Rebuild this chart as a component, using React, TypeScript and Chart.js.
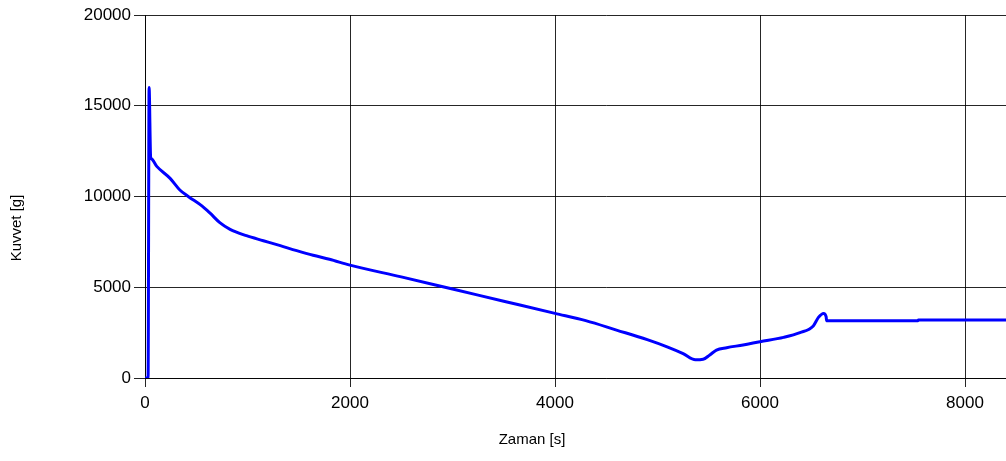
import React, { useEffect, useRef } from "react";
import { Chart, registerables } from "chart.js";

Chart.register(...registerables);

// Measured force over time
const timeSeconds: number[] = [
  0, 30, 40, 55, 62, 115, 245, 340, 425, 555, 635, 730, 830, 990, 1155, 1320,
  1480, 1640, 1800, 2000, 2500, 3000, 3500, 4000, 4300, 4600, 4900, 5100, 5250,
  5370, 5445, 5510, 5575, 5675, 5835, 6000, 6230, 6390, 6520, 6570, 6620, 6645,
  6650, 7540, 7545, 9000,
];
const forceGrams: number[] = [
  0, 0, 16000, 12150, 12080, 11660, 11000, 10360, 9990, 9480, 9080, 8560, 8190,
  7840, 7565, 7290, 7015, 6760, 6540, 6220, 5570, 4900, 4230, 3560, 3160, 2640,
  2110, 1700, 1340, 1000, 1030, 1270, 1540, 1670, 1820, 2000, 2240, 2500, 2870,
  3340, 3560, 3380, 3160, 3160, 3190, 3190,
];

const xTickValues: number[] = [0, 2000, 4000, 6000, 8000];
const yTickValues: number[] = [0, 5000, 10000, 15000, 20000];

const xTitle = "Zaman [s]";
const yTitle = "Kuvvet [g]";

const FONT = "'Liberation Sans', Arial, sans-serif";

// Draws both axis titles, centred on the whole control
const axisTitles = {
  id: "axisTitles",
  afterDraw(chart: Chart) {
    const ctx = chart.ctx;
    ctx.save();
    ctx.fillStyle = "#000";
    ctx.font = `15px ${FONT}`;
    ctx.textAlign = "center";
    ctx.textBaseline = "middle";
    ctx.fillText(xTitle, 532, 440);
    ctx.translate(17, 228);
    ctx.rotate(-Math.PI / 2);
    ctx.fillText(yTitle, 0, 0);
    ctx.restore();
  },
};

export default function App() {
  const canvasRef = useRef<HTMLCanvasElement | null>(null);

  useEffect(() => {
    if (!canvasRef.current) return;
    const points = timeSeconds.map((t, i) => ({ x: t, y: forceGrams[i] }));
    const gridColor = "rgba(0,0,0,0.85)";
    const plain = (v: number | string) => String(v);
    const chart = new Chart(canvasRef.current, {
      type: "line",
      data: {
        datasets: [
          {
            data: points,
            borderColor: "#0000ff",
            borderWidth: 3,
            pointRadius: 0,
            cubicInterpolationMode: "monotone",
            borderJoinStyle: "round",
            borderCapStyle: "round",
          },
        ],
      },
      options: {
        animation: false,
        responsive: false,
        devicePixelRatio: 1,
        layout: { padding: { left: 0, top: 15, right: 12.5, bottom: 0 } },
        plugins: {
          legend: { display: false },
          tooltip: { enabled: false },
          title: { display: false },
        },
        scales: {
          x: {
            type: "linear",
            min: 0,
            max: 9000,
            afterFit: (scale: any) => {
              scale.height = 83;
            },
            afterBuildTicks: (scale: any) => {
              scale.ticks = xTickValues.map((v) => ({ value: v }));
            },
            ticks: {
              color: "#000",
              font: { family: FONT, size: 17 },
              padding: 6,
              maxRotation: 0,
              includeBounds: false,
              callback: plain,
            },
            grid: {
              color: gridColor,
              lineWidth: 1,
              tickLength: 9,
              drawTicks: true,
            },
            border: { color: gridColor, width: 1 },
          },
          y: {
            type: "linear",
            min: 0,
            max: 20000,
            afterFit: (scale: any) => {
              scale.width = 145;
            },
            afterBuildTicks: (scale: any) => {
              scale.ticks = yTickValues.map((v) => ({ value: v }));
            },
            ticks: {
              color: "#000",
              font: { family: FONT, size: 17 },
              padding: 3,
              callback: plain,
            },
            grid: {
              color: gridColor,
              lineWidth: 1,
              tickLength: 11,
              drawTicks: true,
            },
            border: { color: gridColor, width: 1 },
          },
        },
      },
      plugins: [axisTitles],
    });
    return () => chart.destroy();
  }, []);

  return (
    <div
      style={{
        position: "fixed",
        left: 0,
        top: 0,
        width: 1006,
        height: 461,
        overflow: "hidden",
        background: "#fff",
      }}
    >
      <canvas ref={canvasRef} width={1080} height={461} style={{ display: "block" }} />
    </div>
  );
}
